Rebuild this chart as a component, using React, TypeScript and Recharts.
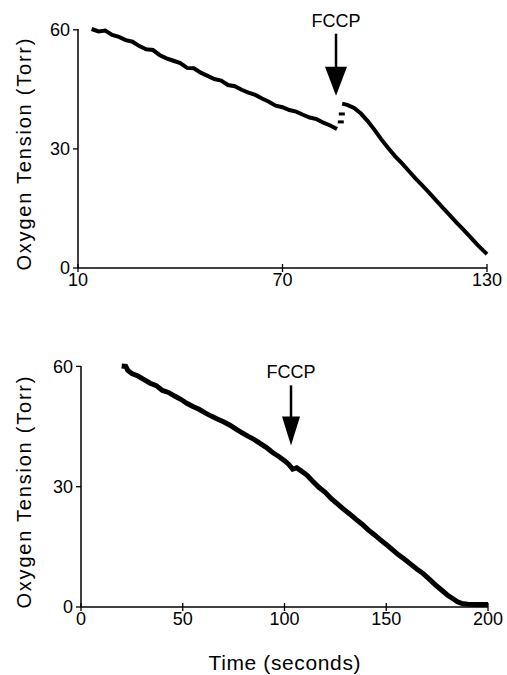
import { ComposedChart, Line, XAxis, YAxis, ReferenceDot } from 'recharts'

const FONT = "'Liberation Sans', Arial, Helvetica, sans-serif"

// upper trace (seconds, Torr)
const topPreTime = [14, 16, 18, 20, 22, 24, 26, 28, 30, 32, 34, 36, 38, 40, 42, 44, 46, 48, 50, 52, 54, 56, 58, 60, 62, 64, 66, 68, 70, 72, 74, 76, 78, 80, 82, 84, 86]
const topPreO2 = [60.2, 59.6, 59.8, 58.7, 58.2, 57.4, 57.0, 55.9, 55.1, 54.9, 53.6, 52.8, 52.2, 51.6, 50.4, 50.3, 49.2, 48.4, 47.6, 47.2, 46.1, 45.8, 44.9, 44.2, 43.6, 42.7, 41.9, 40.9, 40.5, 39.8, 39.4, 38.6, 37.9, 37.5, 36.6, 35.9, 35.0]
const topJumpTime = [87.1, 87.4]
const topJumpO2 = [36.8, 38.8]
const topPostTime = [87.5, 89, 91, 93, 95, 97, 99, 101, 103, 105, 107, 109, 111, 113, 115, 117, 119, 121, 123, 125, 127, 129, 130]
const topPostO2 = [41.4, 41.1, 40.3, 38.9, 37.0, 34.8, 32.4, 30.2, 28.2, 26.4, 24.5, 22.6, 20.8, 19.0, 17.1, 15.2, 13.4, 11.5, 9.7, 7.9, 6.0, 4.3, 3.5]
const topTicksX = [10, 70, 130]
const topFccpTime = 85.7
const topFccpO2 = 43.4

// lower trace
const botTime = [20, 22, 23, 25, 28, 31, 34, 37, 40, 43, 46, 49, 52, 55, 58, 61, 64, 67, 70, 73, 76, 79, 82, 85, 88, 91, 94, 97, 100, 102, 104, 106, 108, 111, 114, 117, 120, 123, 126, 129, 132, 135, 138, 141, 144, 147, 150, 153, 156, 159, 162, 165, 168, 171, 174, 177, 180, 183, 185, 187, 190, 195, 200]
const botO2 = [60.1, 60.0, 59.0, 58.2, 57.6, 56.7, 55.8, 55.2, 54.0, 53.5, 52.6, 51.8, 50.8, 50.0, 49.3, 48.4, 47.6, 46.9, 46.2, 45.4, 44.4, 43.5, 42.6, 41.8, 40.8, 39.8, 38.6, 37.6, 36.5, 35.6, 34.4, 34.7, 34.0, 32.9, 31.3, 29.8, 28.6, 27.0, 25.7, 24.4, 23.2, 21.9, 20.7, 19.3, 18.1, 16.8, 15.6, 14.3, 13.0, 11.9, 10.7, 9.5, 8.4, 7.0, 5.6, 4.3, 3.0, 2.0, 1.3, 0.9, 0.7, 0.6, 0.6]
const botTicksX = [0, 50, 100, 150, 200]
const botFccpTime = 103.2
const botFccpO2 = 40.3

const ticksY = [0, 30, 60]

const toPoints = (ts: number[], vs: number[]) => ts.map((t, i) => ({ t, o2: vs[i] }))

function XTick({ x, y, payload }: any) {
  const axisY = y - 5
  return (
    <g>
      <line x1={x} x2={x} y1={axisY - 4} y2={axisY + 4} stroke="#000" strokeWidth={1.3} />
      <text x={x} y={y} dy="0.71em" textAnchor="middle" fontSize={18} fontFamily={FONT} fill="#000">
        {payload.value}
      </text>
    </g>
  )
}

function YLabel({ viewBox, shift }: any) {
  const vb = viewBox || { x: 0, y: 0, width: 0, height: 0 }
  const x = vb.x + 31
  const cy = vb.y + vb.height / 2 + shift
  return (
    <text
      x={x}
      y={cy}
      transform={`rotate(-90, ${x}, ${cy})`}
      textAnchor="middle"
      fontSize={20}
      fontFamily={FONT}
      textLength={232}
      lengthAdjust="spacing"
      fill="#000"
    >
      Oxygen Tension (Torr)
    </text>
  )
}

function TimeLabel({ viewBox }: any) {
  const vb = viewBox || { x: 0, y: 0, width: 0, height: 0 }
  return (
    <text
      x={vb.x + vb.width / 2}
      y={vb.y + 63}
      textAnchor="middle"
      fontSize={21}
      fontFamily={FONT}
      textLength={152}
      lengthAdjust="spacing"
      fill="#000"
    >
      Time (seconds)
    </text>
  )
}

function FccpArrow({ cx, cy, head, textOff, shaftOff }: any) {
  return (
    <g>
      <text x={cx} y={cy - textOff} textAnchor="middle" fontSize={18} fontFamily={FONT} fill="#000">
        FCCP
      </text>
      <line x1={cx} x2={cx} y1={cy - shaftOff} y2={cy - 26} stroke="#000" strokeWidth={2.5} />
      <polygon points={`${cx - head / 2},${cy - 29} ${cx + head / 2},${cy - 29} ${cx},${cy}`} fill="#000" />
    </g>
  )
}

const dash = (p: any) => (
  <rect key={`j${p.index}`} x={p.cx - 3} y={p.cy - 1.5} width={6} height={3} fill="#000" />
)

const yTick = { fontSize: 18, fontFamily: FONT, fill: '#000' }

export default function App() {
  return (
    <div style={{ position: 'absolute', left: 0, top: 0, width: 507, height: 675, background: '#fff' }}>
      <div style={{ position: 'absolute', left: 0, top: 0 }}>
        <ComposedChart width={507} height={300} margin={{ top: 29, right: 20, bottom: 2, left: 0 }}>
          <XAxis
            dataKey="t"
            type="number"
            domain={[10, 130]}
            ticks={topTicksX}
            height={30}
            tickSize={2}
            tickMargin={3}
            tickLine={false}
            tick={<XTick />}
            axisLine={{ stroke: '#000', strokeWidth: 1.5 }}
          />
          <YAxis
            type="number"
            domain={[0, 60]}
            ticks={ticksY}
            width={78}
            tickSize={5}
            tickMargin={3}
            tick={yTick}
            tickLine={{ stroke: '#000', strokeWidth: 1.3 }}
            axisLine={{ stroke: '#000', strokeWidth: 1.5 }}
            label={<YLabel shift={6} />}
          />
          <Line data={toPoints(topPreTime, topPreO2)} dataKey="o2" stroke="#000" strokeWidth={4} dot={false} isAnimationActive={false} />
          <Line data={toPoints(topJumpTime, topJumpO2)} dataKey="o2" stroke="none" dot={dash} isAnimationActive={false} />
          <Line data={toPoints(topPostTime, topPostO2)} dataKey="o2" stroke="#000" strokeWidth={4} dot={false} isAnimationActive={false} />
          <ReferenceDot
            x={topFccpTime}
            y={topFccpO2}
            ifOverflow="visible"
            shape={(p: any) => <FccpArrow cx={p.cx} cy={p.cy} head={22} textOff={69} shaftOff={62} />}
          />
        </ComposedChart>
      </div>
      <div style={{ position: 'absolute', left: 0, top: 340 }}>
        <ComposedChart width={507} height={335} margin={{ top: 26, right: 19, bottom: 38, left: 0 }}>
          <XAxis
            dataKey="t"
            type="number"
            domain={[0, 200]}
            ticks={botTicksX}
            height={30}
            tickSize={2}
            tickMargin={3}
            tickLine={false}
            tick={<XTick />}
            axisLine={{ stroke: '#000', strokeWidth: 1.5 }}
            label={<TimeLabel />}
          />
          <YAxis
            type="number"
            domain={[0, 60]}
            ticks={ticksY}
            width={81}
            tickSize={5}
            tickMargin={3}
            tick={yTick}
            tickLine={{ stroke: '#000', strokeWidth: 1.3 }}
            axisLine={{ stroke: '#000', strokeWidth: 1.5 }}
            label={<YLabel shift={6} />}
          />
          <Line data={toPoints(botTime, botO2)} dataKey="o2" stroke="#000" strokeWidth={5} dot={false} isAnimationActive={false} />
          <ReferenceDot
            x={botFccpTime}
            y={botFccpO2}
            ifOverflow="visible"
            shape={(p: any) => <FccpArrow cx={p.cx} cy={p.cy} head={18} textOff={67} shaftOff={60} />}
          />
        </ComposedChart>
      </div>
    </div>
  )
}
